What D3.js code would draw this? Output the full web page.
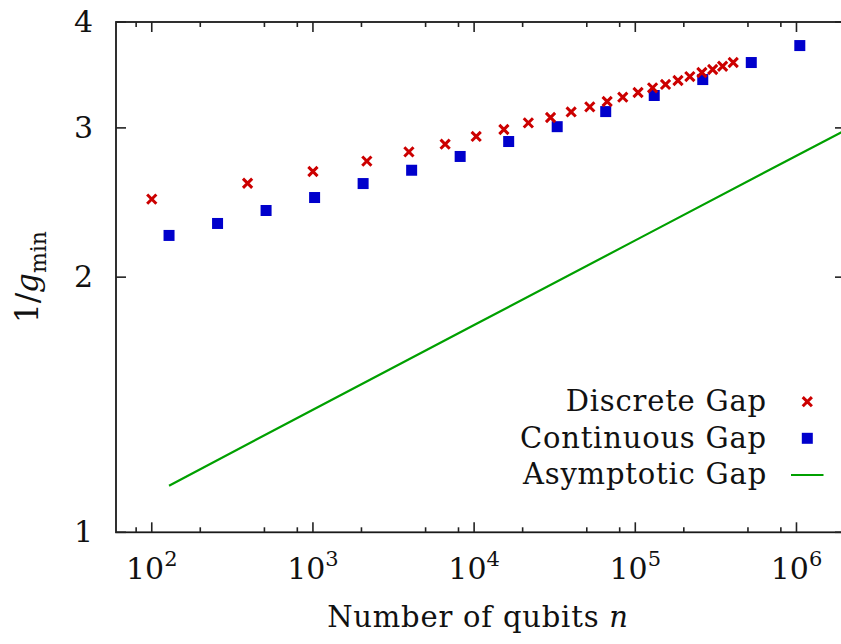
<!DOCTYPE html>
<html>
<head>
<meta charset="utf-8">
<script src="https://cdn.jsdelivr.net/npm/d3@7"></script>
<style>
  body { margin: 0; background: #fff; }
  svg { display: block; }
</style>
</head>
<body>
<svg width="841" height="644"></svg>
<script>
// minimum gap vs number of qubits, log-log plot

//data
const seriesNames = ["Discrete Gap", "Continuous Gap", "Asymptotic Gap"];

const discreteN = [100, 393, 1000, 2160, 3940, 6610, 10300, 15300, 21700, 29800,
  40000, 52200, 66900, 83600, 104000, 128000, 154000, 184000, 218000, 259000,
  302000, 348000, 405000];
const discreteGap = [2.472, 2.581, 2.665, 2.741, 2.811, 2.87, 2.931, 2.987, 3.041,
  3.086, 3.133, 3.176, 3.223, 3.261, 3.303, 3.345, 3.376, 3.412, 3.449, 3.487,
  3.516, 3.547, 3.583];

const continuousN = [128, 256, 512, 1024, 2048, 4096, 8192, 16384, 32768, 65536,
  131072, 262144, 524288, 1048576];
const continuousGap = [2.24, 2.314, 2.397, 2.483, 2.579, 2.674, 2.776, 2.891, 3.01,
  3.136, 3.276, 3.421, 3.583, 3.752];

const asymptoticN = [128, 1000, 10000, 100000, 1000000, 2000000];
const asymptoticGap = [1.135, 1.395, 1.756, 2.21, 2.782, 2.98];

//tick values
const xTicks = [1e2, 1e3, 1e4, 1e5, 1e6];
const xMinorTicks = [80, 200, 500, 800, 2000, 5000, 8000, 20000, 50000, 80000,
  200000, 500000, 800000];
const yTicks = [1, 2, 3, 4];

//selecting root svg
const svg = d3.select("svg");
const fontFamily = "DejaVu Serif, Liberation Serif, serif";

//plot area
const plotLeft = 116;
const plotRight = 845;
const plotTop = 22;
const plotBottom = 532.3;

const x = d3.scaleLog().domain([60, 2e6]).range([plotLeft, plotRight]);
const y = d3.scaleLog().domain([1, 4]).range([plotBottom, plotTop]);

//clip for the data
svg.append("clipPath")
  .attr("id", "plot-clip")
  .append("rect")
  .attr("x", plotLeft)
  .attr("y", plotTop)
  .attr("width", plotRight - plotLeft)
  .attr("height", plotBottom - plotTop);

//frame
svg.append("rect")
  .attr("x", plotLeft)
  .attr("y", plotTop)
  .attr("width", plotRight - plotLeft)
  .attr("height", plotBottom - plotTop)
  .attr("fill", "none")
  .attr("stroke", "#1a1a1a")
  .attr("stroke-width", 1.8);

//ticks, drawn inward on all four sides
const ticks = svg.append("g")
  .attr("stroke", "#222")
  .attr("stroke-width", 1.6);

xTicks.forEach((t) => {
  ticks.append("line")
    .attr("x1", x(t)).attr("x2", x(t))
    .attr("y1", plotBottom).attr("y2", plotBottom - 10);
  ticks.append("line")
    .attr("x1", x(t)).attr("x2", x(t))
    .attr("y1", plotTop).attr("y2", plotTop + 10);
});
xMinorTicks.forEach((t) => {
  ticks.append("line")
    .attr("x1", x(t)).attr("x2", x(t))
    .attr("y1", plotBottom).attr("y2", plotBottom - 5);
  ticks.append("line")
    .attr("x1", x(t)).attr("x2", x(t))
    .attr("y1", plotTop).attr("y2", plotTop + 5);
});
yTicks.forEach((t) => {
  ticks.append("line")
    .attr("x1", plotLeft).attr("x2", plotLeft + 10)
    .attr("y1", y(t)).attr("y2", y(t));
  ticks.append("line")
    .attr("x1", plotRight).attr("x2", plotRight - 10)
    .attr("y1", y(t)).attr("y2", y(t));
});

//x tick labels as powers of ten
const xLabels = svg.append("g")
  .attr("font-family", fontFamily)
  .attr("font-size", 30)
  .attr("fill", "#111");
xTicks.forEach((t) => {
  const label = xLabels.append("text")
    .attr("x", x(t))
    .attr("y", 579)
    .attr("text-anchor", "middle");
  label.append("tspan").text("10");
  label.append("tspan")
    .attr("font-size", 21)
    .attr("dy", -13)
    .text(Math.round(Math.log10(t)));
});

//y tick labels
svg.append("g")
  .attr("font-family", fontFamily)
  .attr("font-size", 30)
  .attr("fill", "#111")
  .selectAll("text")
  .data(yTicks)
  .join("text")
  .attr("x", 93)
  .attr("y", (d) => y(d) + 10)
  .attr("text-anchor", "end")
  .text((d) => d);

//data layer
const plot = svg.append("g").attr("clip-path", "url(#plot-clip)");

//asymptotic gap line
const line = d3.line()
  .x((d) => x(d[0]))
  .y((d) => y(d[1]));
plot.append("path")
  .datum(asymptoticN.map((n, i) => [n, asymptoticGap[i]]))
  .attr("d", line)
  .attr("fill", "none")
  .attr("stroke", "#00a000")
  .attr("stroke-width", 2.2);

//continuous gap squares
const sq = 11;
plot.selectAll(".continuous")
  .data(continuousN.map((n, i) => [n, continuousGap[i]]))
  .join("rect")
  .attr("class", "continuous")
  .attr("x", (d) => x(d[0]) - sq / 2)
  .attr("y", (d) => y(d[1]) - sq / 2)
  .attr("width", sq)
  .attr("height", sq)
  .attr("fill", "#0000cc");

//discrete gap crosses
const cross = (cx, cy, r) =>
  `M${cx - r},${cy - r}L${cx + r},${cy + r}M${cx - r},${cy + r}L${cx + r},${cy - r}`;
plot.selectAll(".discrete")
  .data(discreteN.map((n, i) => [n, discreteGap[i]]))
  .join("path")
  .attr("class", "discrete")
  .attr("d", (d) => cross(x(d[0]), y(d[1]), 4.6))
  .attr("fill", "none")
  .attr("stroke", "#cc0000")
  .attr("stroke-width", 3);

//legend
const legend = svg.append("g")
  .attr("font-family", fontFamily)
  .attr("font-size", 29)
  .attr("letter-spacing", 0.8)
  .attr("fill", "#111");
const legendY = [411, 448, 484];
seriesNames.forEach((name, i) => {
  legend.append("text")
    .attr("x", 767)
    .attr("y", legendY[i])
    .attr("text-anchor", "end")
    .text(name);
});
legend.append("path")
  .attr("d", cross(807.3, 401.7, 4.6))
  .attr("stroke", "#cc0000")
  .attr("stroke-width", 3);
legend.append("rect")
  .attr("x", 807.3 - sq / 2)
  .attr("y", 438.3 - sq / 2)
  .attr("width", sq)
  .attr("height", sq)
  .attr("fill", "#0000cc");
legend.append("line")
  .attr("x1", 791).attr("x2", 823.5)
  .attr("y1", 475).attr("y2", 475)
  .attr("stroke", "#00a000")
  .attr("stroke-width", 2.2);

//axis titles
const xTitle = svg.append("text")
  .attr("x", 478)
  .attr("y", 627)
  .attr("text-anchor", "middle")
  .attr("font-family", fontFamily)
  .attr("font-size", 29)
  .attr("letter-spacing", 0.8)
  .attr("fill", "#111");
xTitle.append("tspan").text("Number of qubits ");
xTitle.append("tspan").attr("font-style", "italic").text("n");

const yTitle = svg.append("text")
  .attr("transform", "translate(38,277) rotate(-90)")
  .attr("text-anchor", "middle")
  .attr("font-family", fontFamily)
  .attr("font-size", 31)
  .attr("fill", "#111");
yTitle.append("tspan").text("1/");
yTitle.append("tspan").attr("font-style", "italic").text("g");
yTitle.append("tspan").attr("font-size", 22).attr("dy", 8).text("min");
</script>
</body>
</html>
